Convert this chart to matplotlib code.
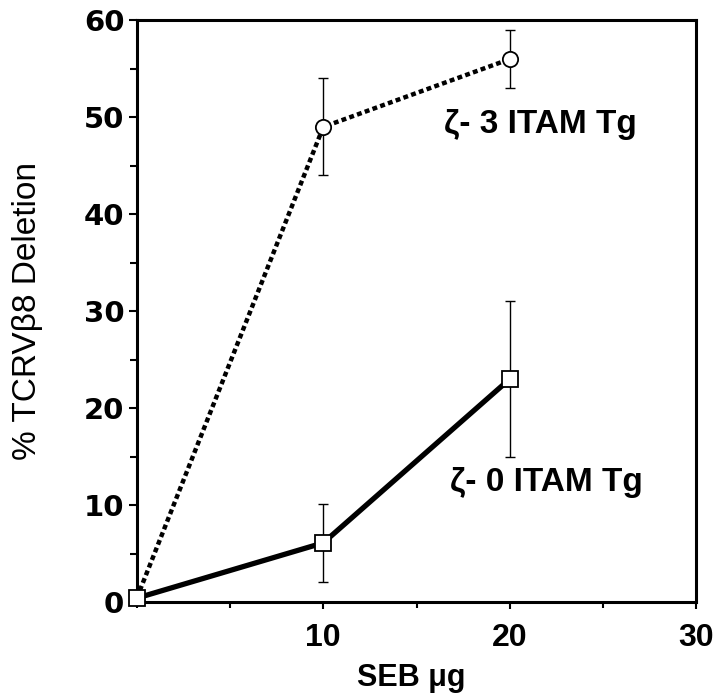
import matplotlib
matplotlib.use("Agg")
import matplotlib.pyplot as plt
from matplotlib.ticker import MultipleLocator
import numpy as np

plt.rcParams["font.family"] = ["Liberation Sans", "DejaVu Sans"]

# data
seb_ug = [0, 10, 20]
itam3_mean = [0.4, 49.0, 56.0]
itam3_err = [0.0, 5.0, 3.0]
itam0_mean = [0.4, 6.1, 23.0]
itam0_err = [0.0, 4.0, 8.0]

x_ticks = [10, 20, 30]
y_ticks = [0, 10, 20, 30, 40, 50, 60]

fig = plt.figure(figsize=(7.2, 7.0), dpi=100)
ax = fig.add_axes([0.190, 0.140, 0.777, 0.831])

# 3 ITAM series: dotted line with open circles
ax.errorbar(seb_ug, itam3_mean, yerr=itam3_err, fmt="none", ecolor="black",
            elinewidth=1.0, capsize=3.5, capthick=1.0, zorder=2)
line3, = ax.plot(seb_ug, itam3_mean, color="black", lw=3.2, zorder=3,
                 solid_capstyle="butt", dash_capstyle="butt")
line3.set_dashes((1.1, 0.75))
ax.plot(seb_ug[1:], itam3_mean[1:], ls="none", marker="o", ms=11,
        mfc="white", mec="black", mew=1.3, zorder=5)

# 0 ITAM series: thick solid line with open squares
ax.errorbar(seb_ug, itam0_mean, yerr=itam0_err, fmt="none", ecolor="black",
            elinewidth=1.0, capsize=3.5, capthick=1.0, zorder=2)
ax.plot(seb_ug, itam0_mean, color="black", lw=3.8, zorder=4)
ax.plot(seb_ug, itam0_mean, ls="none", marker="s", ms=11,
        mfc="white", mec="black", mew=1.3, zorder=6, clip_on=False)

ax.text(16.45, 48.4, "\u03b6- 3 ITAM Tg", fontsize=24, fontweight="bold",
        ha="left", va="baseline")
ax.text(16.8, 11.5, "\u03b6- 0 ITAM Tg", fontsize=24, fontweight="bold",
        ha="left", va="baseline")

ax.set_xlim(0, 30)
ax.set_ylim(0, 60)
ax.set_xticks(x_ticks)
ax.set_yticks(y_ticks)
ax.xaxis.set_minor_locator(MultipleLocator(5))
ax.yaxis.set_minor_locator(MultipleLocator(5))

for side in ["left", "right", "top", "bottom"]:
    ax.spines[side].set_linewidth(2.2)

ax.tick_params(axis="both", which="both", direction="out", width=1.5)
ax.tick_params(axis="x", which="major", length=5, pad=10)
ax.tick_params(axis="x", which="minor", length=4)
ax.tick_params(axis="y", which="major", length=6, pad=3)
ax.tick_params(axis="y", which="minor", length=5)

for lab in ax.get_xticklabels():
    lab.set_fontsize(23)
    lab.set_fontweight("bold")
for lab in ax.get_yticklabels():
    lab.set_fontsize(21)
    lab.set_fontweight("bold")
    lab.set_family("DejaVu Sans")

ax.set_xlabel("SEB \u03bcg", fontsize=22, fontweight="bold")
ax.xaxis.set_label_coords(0.49, -0.105)
ax.set_ylabel("% TCRV\u03b28 Deletion", fontsize=24)
ax.yaxis.set_label_coords(-0.168, 0.5)

fig.savefig("out.png", dpi=100)
